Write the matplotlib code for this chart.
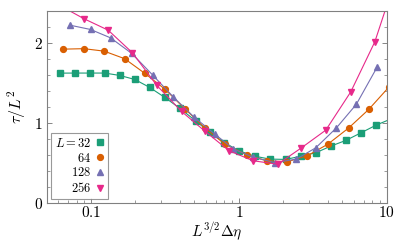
import numpy as np
import matplotlib
matplotlib.use("Agg")
import matplotlib.pyplot as plt
from matplotlib.lines import Line2D
from matplotlib.ticker import FixedLocator, FuncFormatter, MultipleLocator

plt.rcParams["mathtext.fontset"] = "cm"
plt.rcParams["font.family"] = "serif"
plt.rcParams["font.serif"] = ["DejaVu Serif"]

# ---- data ----
x32 = [0.0618, 0.078, 0.0985, 0.124, 0.157, 0.198, 0.25, 0.316, 0.399, 0.512, 0.635, 0.80,
       1.0, 1.28, 1.62, 2.08, 2.62, 3.31, 4.18, 5.28, 6.7, 8.5, 10.8]
y32 = [1.629, 1.63, 1.63, 1.63, 1.60, 1.55, 1.45, 1.325, 1.19, 1.03, 0.89, 0.76,
       0.658, 0.59, 0.554, 0.55, 0.59, 0.633, 0.716, 0.787, 0.883, 0.98, 1.06]

x64 = [0.065, 0.0897, 0.123, 0.169, 0.232, 0.318, 0.436, 0.589, 0.804, 1.127, 1.54, 2.12,
       2.9, 4.0, 5.54, 7.55, 10.4]
y64 = [1.929, 1.935, 1.904, 1.81, 1.625, 1.425, 1.175, 0.945, 0.741, 0.608, 0.533, 0.52,
       0.595, 0.741, 0.945, 1.175, 1.46]

x128 = [0.0721, 0.0995, 0.136, 0.189, 0.262, 0.36, 0.496, 0.685, 0.92, 1.24, 1.75, 2.45,
        3.31, 4.57, 6.23, 8.64]
y128 = [2.229, 2.175, 2.07, 1.875, 1.604, 1.333, 1.083, 0.87, 0.68, 0.58, 0.51, 0.554,
        0.695, 0.945, 1.24, 1.71]

x256 = [0.061, 0.0897, 0.131, 0.191, 0.278, 0.41, 0.589, 0.86, 1.25, 1.83, 2.65, 3.87,
        5.71, 8.3, 12.2]
y256 = [2.48, 2.31, 2.166, 1.883, 1.479, 1.15, 0.904, 0.658, 0.533, 0.49, 0.695, 0.916,
        1.395, 2.02, 2.96]

labels = ["$L = 32$", "$64$", "$128$", "$256$"]
colors = ["#1b9e77", "#d95f02", "#7570b3", "#e7298a"]
markers = ["s", "o", "^", "v"]
xticks = [0.1, 1, 10]
yticks = [0, 1, 2]

fig = plt.figure(figsize=(4.05, 2.43), dpi=100)
ax = fig.add_axes([0.116, 0.163, 0.839, 0.793])

series = [(x32, y32), (x64, y64), (x128, y128), (x256, y256)]
for (xs, ys), c, m in zip(series, colors, markers):
    ax.plot(xs, ys, color=c, lw=0.8, marker=m, ms=4.2, mec=c, mfc=c, clip_on=True)

ax.set_xscale("log")
ax.set_xlim(0.0505, 10)
ax.set_ylim(0, 2.41)

ax.xaxis.set_major_locator(FixedLocator(xticks))
ax.xaxis.set_major_formatter(FuncFormatter(lambda v, p: f"${v:g}$"))
ax.yaxis.set_major_locator(FixedLocator(yticks))
ax.yaxis.set_minor_locator(MultipleLocator(0.2))
ax.yaxis.set_major_formatter(FuncFormatter(lambda v, p: f"${v:g}$"))
ax.tick_params(which="both", direction="in", top=False, right=True, color="0.45",
               labelsize=11, pad=3)
ax.tick_params(axis="x", pad=1.5)
ax.tick_params(which="major", length=3.5, width=0.6)
ax.tick_params(which="minor", length=2, width=0.5)
ax.xaxis.set_minor_formatter(FuncFormatter(lambda v, p: ""))
for s in ax.spines.values():
    s.set_color("0.5")
    s.set_linewidth(0.8)

ax.set_xlabel(r"$L^{3/2}\Delta\eta$", fontsize=11, labelpad=0)
ax.set_ylabel(r"$\tau/L^2$", fontsize=11.5, labelpad=4)

handles = [Line2D([], [], ls="none", marker=m, color=c, ms=4.2) for c, m in zip(colors, markers)]
leg = ax.legend(handles, labels, loc="lower left", markerfirst=False, fontsize=9,
                frameon=True, fancybox=False, edgecolor="0.5", handlelength=0.6,
                handletextpad=0.4, labelspacing=0.15, borderpad=0.3,
                borderaxespad=0.35)
leg.get_frame().set_linewidth(0.8)

fig.savefig("out.png", dpi=100)
